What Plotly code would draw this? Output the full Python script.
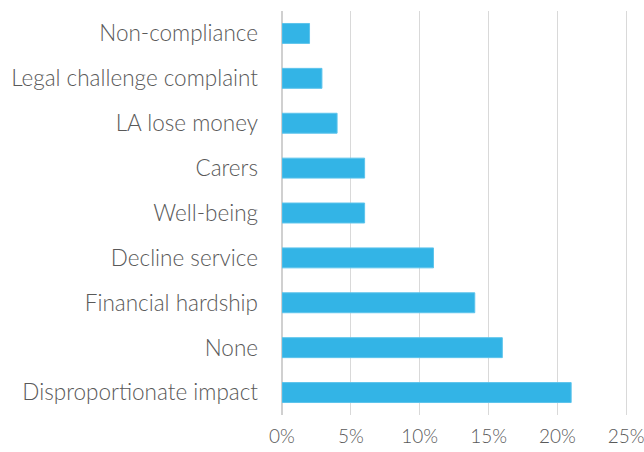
import plotly.graph_objects as go

categories = ["Non-compliance", "Legal challenge complaint", "LA lose money", "Carers",
              "Well-being", "Decline service", "Financial hardship", "None",
              "Disproportionate impact"]
values = [0.02, 0.029, 0.04, 0.06, 0.06, 0.11, 0.14, 0.16, 0.21]
tick_vals = [0, 0.05, 0.10, 0.15, 0.20, 0.25]
tick_text = ["0%", "5%", "10%", "15%", "20%", "25%"]

font_family = "Lato"
text_color = "#595959"
fsize = 22.5
xfsize = 19

fig = go.Figure(go.Bar(
    y=categories, x=values, orientation="h",
    marker=dict(color="#33B4E6", line=dict(color="#5DC4EC", width=1)),
))
fig.update_layout(
    width=644, height=452,
    margin=dict(l=282, r=15.25, t=10.5, b=36.5),
    paper_bgcolor="white", plot_bgcolor="white",
    bargap=0.556, showlegend=False,
    font=dict(family=font_family, size=fsize, color=text_color, weight=300),
)
fig.update_xaxes(range=[0, 0.252], tickvals=tick_vals, ticktext=tick_text,
                 automargin=False, ticklabeloverflow="allow",
                 showgrid=True, gridcolor="#D9D9D9", gridwidth=1,
                 zeroline=True, zerolinecolor="#D0D0D0", zerolinewidth=2,
                 showline=False, ticks="", ticklabelstandoff=8,
                 tickfont=dict(size=xfsize, color=text_color, family=font_family, weight=300))
fig.update_yaxes(categoryorder="array", categoryarray=categories[::-1],
                 automargin=False,
                 showgrid=False, ticks="", ticklabelstandoff=23,
                 tickfont=dict(size=fsize, color=text_color, family=font_family, weight=300))
fig.write_html("out.html", config={"displayModeBar": False},
               post_script="document.body.style.margin='0';document.body.style.overflow='hidden';")
